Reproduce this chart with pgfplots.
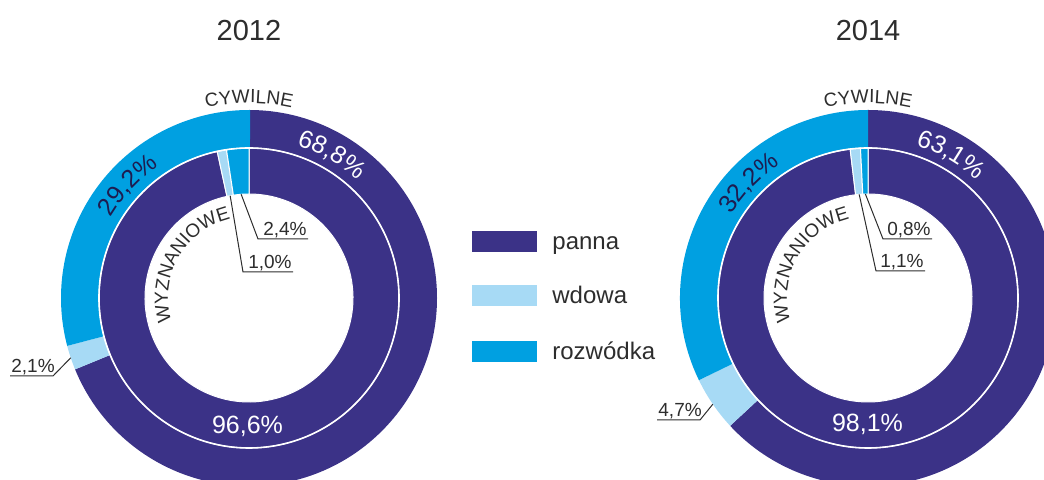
\documentclass[border=0pt]{standalone}
\usepackage{fontspec}
\setmainfont{Liberation Sans}
\usepackage{pgfplots}
\usepackage{pgfplotstable}
\pgfplotsset{compat=1.18}
\usetikzlibrary{calc,decorations.text}

\definecolor{panna}{RGB}{59,50,135}
\definecolor{wdowa}{RGB}{167,218,245}
\definecolor{rozwodka}{RGB}{0,160,225}
\definecolor{tekst}{RGB}{45,45,45}
\definecolor{ciemny}{RGB}{30,28,80}

% c = śluby cywilne, w = wyznaniowe; udział w %
\pgfplotstableread{
kat      c12  w12  c14  w14
panna    68.8 96.6 63.1 98.1
wdowa    2.1  1.0  4.7  1.1
rozwodka 29.2 2.4  32.2 0.8
}\dane

% kąty początku, końca i środka każdego wycinka (zgodnie z zegarem od góry)
\newcommand\katy[1]{%
  \def\acc{0}%
  \pgfplotsforeachungrouped \nr in {0,1,2}{%
    \pgfplotstablegetelem{\nr}{#1}\of\dane
    \pgfmathsetmacro\aS{90-3.6*\acc}%
    \pgfmathsetmacro\acc{\acc+\pgfplotsretval}%
    \pgfmathsetmacro\aE{90-3.6*\acc}%
    \pgfmathsetmacro\aM{(\aS+\aE)/2}%
    \expandafter\xdef\csname s#1\nr\endcsname{\aS}%
    \expandafter\xdef\csname e#1\nr\endcsname{\aE}%
    \expandafter\xdef\csname m#1\nr\endcsname{\aM}%
  }%
}
\katy{c12}\katy{w12}\katy{c14}\katy{w14}

\newcommand\klin[6]{% srodek, r wew, r zew, start, koniec, styl
  \fill[#6] ($(#1)+(#4:#3)$) arc[start angle=#4, end angle=#5, radius=#3]
    -- ($(#1)+(#5:#2)$) arc[start angle=#5, end angle=#4, radius=#2] -- cycle;}
\newcommand\pierscien[5]{% srodek, kolumna, r wew, r zew, obrys
  \klin{#1}{#3}{#4}{\csname s#20\endcsname}{\csname e#20\endcsname}{panna,#5}
  \klin{#1}{#3}{#4}{\csname s#21\endcsname}{\csname e#21\endcsname}{wdowa,#5}
  \klin{#1}{#3}{#4}{\csname s#22\endcsname}{\csname e#22\endcsname}{rozwodka,#5}}
\newcommand\luk[6]{% srodek, promien, start, koniec, kolor, tekst
  \path[decorate, decoration={text along path, text align=center,
    text color=#5, text={#6}}]
    ($(#1)+(#3:#2)$) arc[start angle=#3, end angle=#4, radius=#2];}

\newcommand\fs[1]{\fontsize{#1}{#1}\selectfont}

\begin{document}
\begin{tikzpicture}
\begin{axis}[x=0.5pt, y=0.5pt, xmin=0, xmax=1044, ymin=0, ymax=480,
    hide axis, clip=true]
  \coordinate (SW) at (axis cs:0,0);
  \coordinate (NE) at (axis cs:1044,480);
  \coordinate (L) at (axis cs:249,182);
  \coordinate (R) at (axis cs:868,182);

  % pierścienie
  \pierscien{L}{c12}{75pt}{94pt}{draw=none}
  \pierscien{L}{w12}{52pt}{75pt}{draw=white, line width=0.5pt}
  \draw[white, line width=0.8pt] (L) circle[radius=75pt];
  \pierscien{R}{c14}{75pt}{94pt}{draw=none}
  \pierscien{R}{w14}{52pt}{75pt}{draw=white, line width=0.5pt}
  \draw[white, line width=0.8pt] (R) circle[radius=75pt];

  % tytuły
  \node[font=\fs{14.5}, text=tekst] at (axis cs:249,449) {2012};
  \node[font=\fs{14.5}, text=tekst] at (axis cs:868,449) {2014};

  % napisy na łukach
  \luk{L}{97.5pt}{125}{55}{tekst}{|\fs{9.5}|CYWILNE}
  \luk{R}{97.5pt}{125}{55}{tekst}{|\fs{9.5}|CYWILNE}
  \luk{L}{40.5pt}{215}{85}{tekst}{|\fs{9.5}|WYZNANIOWE}
  \luk{R}{40.5pt}{215}{85}{tekst}{|\fs{9.5}|WYZNANIOWE}
  \luk{L}{80pt}{95}{25}{white}{|\fs{12.5}|68,8{\%}}
  \luk{L}{80pt}{172}{102}{ciemny}{|\fs{12.5}|29,2{\%}}
  \luk{R}{80pt}{95}{25}{white}{|\fs{12.5}|63,1{\%}}
  \luk{R}{80pt}{171}{101}{ciemny}{|\fs{12.5}|32,2{\%}}
  \node[font=\fs{12.5}, text=white] at (axis cs:247.5,54) {96,6\%};
  \node[font=\fs{12.5}, text=white] at (axis cs:867.5,56) {98,1\%};

  % odnośniki 2012
  \draw[tekst, line width=0.5pt] ($(L)+(\csname mw122\endcsname:52pt)$)
    -- (axis cs:258,241) -- (axis cs:308,241);
  \node[font=\fs{9.5}, text=tekst, anchor=base east, inner sep=0pt] at (axis cs:307,244) {2,4\%};
  \draw[tekst, line width=0.5pt] ($(L)+(\csname mw121\endcsname:52pt)$)
    -- (axis cs:243,208) -- (axis cs:293,208);
  \node[font=\fs{9.5}, text=tekst, anchor=base east, inner sep=0pt] at (axis cs:292,211) {1,0\%};
  \draw[tekst, line width=0.5pt] ($(L)+(\csname mc121\endcsname:94pt)$)
    -- (axis cs:53,104) -- (axis cs:10,104);
  \node[font=\fs{9.5}, text=tekst, anchor=base west, inner sep=0pt] at (axis cs:11,107) {2,1\%};

  % odnośniki 2014
  \draw[tekst, line width=0.5pt] ($(R)+(\csname mw142\endcsname:52pt)$)
    -- (axis cs:883,241) -- (axis cs:932,241);
  \node[font=\fs{9.5}, text=tekst, anchor=base east, inner sep=0pt] at (axis cs:931,244) {0,8\%};
  \draw[tekst, line width=0.5pt] ($(R)+(\csname mw141\endcsname:52pt)$)
    -- (axis cs:876,209) -- (axis cs:925,209);
  \node[font=\fs{9.5}, text=tekst, anchor=base east, inner sep=0pt] at (axis cs:924,212) {1,1\%};
  \draw[tekst, line width=0.5pt] ($(R)+(\csname mc141\endcsname:94pt)$)
    -- (axis cs:700,60) -- (axis cs:657,60);
  \node[font=\fs{9.5}, text=tekst, anchor=base west, inner sep=0pt] at (axis cs:658,63) {4,7\%};

  % legenda
  \fill[panna]    (axis cs:472,228) rectangle (axis cs:537,249);
  \fill[wdowa]    (axis cs:472,174) rectangle (axis cs:537,195);
  \fill[rozwodka] (axis cs:472,118) rectangle (axis cs:537,139);
  \node[font=\fs{12}, text=tekst, anchor=base west, inner sep=0pt] at (axis cs:552,230) {panna};
  \node[font=\fs{12}, text=tekst, anchor=base west, inner sep=0pt] at (axis cs:552,176) {wdowa};
  \node[font=\fs{12}, text=tekst, anchor=base west, inner sep=0pt] at (axis cs:552,120) {rozwódka};
\end{axis}
\pgfresetboundingbox
\path[use as bounding box] (SW) rectangle (NE);
\end{tikzpicture}
\end{document}
